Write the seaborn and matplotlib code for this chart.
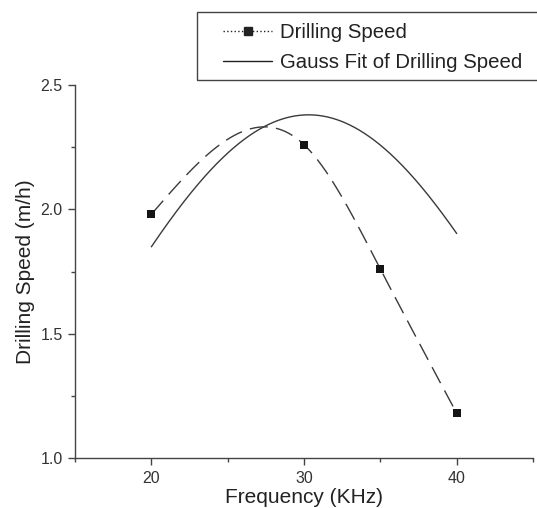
import numpy as np
import pandas as pd
import matplotlib
matplotlib.use('Agg')
import matplotlib.pyplot as plt
from matplotlib.lines import Line2D
from matplotlib.patches import Rectangle
from matplotlib.ticker import MultipleLocator
import seaborn as sns

# measured data
freq = [20, 30, 35, 40]
speed = [1.98, 2.26, 1.76, 1.18]

# Gauss fit parameters
gauss_amp = 2.38
gauss_xc = 30.3
gauss_sigma = 14.5


def natural_spline(x, y, xs):
    # natural cubic spline through the measured points, for the smooth connecting line
    x = np.asarray(x, float)
    y = np.asarray(y, float)
    n = len(x)
    h = np.diff(x)
    A = np.zeros((n, n))
    b = np.zeros(n)
    A[0, 0] = A[-1, -1] = 1
    for i in range(1, n - 1):
        A[i, i - 1] = h[i - 1]
        A[i, i] = 2 * (h[i - 1] + h[i])
        A[i, i + 1] = h[i]
        b[i] = 3 * ((y[i + 1] - y[i]) / h[i] - (y[i] - y[i - 1]) / h[i - 1])
    c = np.linalg.solve(A, b)
    out = np.empty_like(xs)
    for k, xv in enumerate(xs):
        i = min(np.searchsorted(x, xv, side='right') - 1, n - 2)
        i = max(i, 0)
        bi = (y[i + 1] - y[i]) / h[i] - h[i] * (2 * c[i] + c[i + 1]) / 3
        di = (c[i + 1] - c[i]) / (3 * h[i])
        dx = xv - x[i]
        out[k] = y[i] + bi * dx + c[i] * dx ** 2 + di * dx ** 3
    return out


xs = np.linspace(freq[0], freq[-1], 300)
df_pts = pd.DataFrame({'freq': freq, 'speed': speed})
df_smooth = pd.DataFrame({'freq': xs, 'speed': natural_spline(freq, speed, xs)})
df_gauss = pd.DataFrame({'freq': xs,
                         'speed': gauss_amp * np.exp(-(xs - gauss_xc) ** 2 / (2 * gauss_sigma ** 2))})

sns.set_style('ticks')
plt.rcParams['font.family'] = ['Liberation Sans', 'DejaVu Sans']

fig = plt.figure(figsize=(5.37, 5.08), dpi=100)
ax = fig.add_axes([0.1397, 0.0984, 0.8529, 0.7343])

line_col = '#3a3a3a'
sns.lineplot(data=df_smooth, x='freq', y='speed', ax=ax, color=line_col, lw=1.0,
             dashes=False, linestyle=(0, (13, 6)))
sns.lineplot(data=df_gauss, x='freq', y='speed', ax=ax, color=line_col, lw=1.0)
sns.scatterplot(data=df_pts, x='freq', y='speed', ax=ax, marker='s', s=40,
                color='#151515', edgecolor='#151515', linewidth=0, zorder=5)

ax.set_xlim(15, 45)
ax.set_ylim(1.0, 2.5)
ax.xaxis.set_major_locator(MultipleLocator(10))
ax.xaxis.set_minor_locator(MultipleLocator(5))
ax.yaxis.set_major_locator(MultipleLocator(0.5))
ax.yaxis.set_minor_locator(MultipleLocator(0.25))
ax.set_yticklabels([f'{v:.1f}' for v in ax.get_yticks()])
ax.tick_params(which='major', direction='out', length=5, width=1, colors='#444444',
               labelsize=11.5, labelcolor='#333333', pad=4)
ax.tick_params(which='minor', direction='out', length=3, width=1, colors='#444444')
for s in ['top', 'right']:
    ax.spines[s].set_visible(False)
for s in ['left', 'bottom']:
    ax.spines[s].set_color('#444444')
    ax.spines[s].set_linewidth(1)

ax.set_xlabel('Frequency (KHz)', fontsize=15, color='#222222', labelpad=2)
ax.set_ylabel('Drilling Speed (m/h)', fontsize=15, color='#222222', labelpad=4)

# legend frame runs past the right edge of the figure, as in the original
fig.patches.append(Rectangle((197 / 537, 1 - 80 / 508), 0.7, 68 / 508,
                             transform=fig.transFigure, fill=False,
                             edgecolor='#444444', linewidth=1))
handles = [Line2D([], [], color='#222222', lw=1, linestyle=':', marker='s', markersize=6),
           Line2D([], [], color='#222222', lw=1)]
leg = fig.legend(handles, ['Drilling Speed', 'Gauss Fit of Drilling Speed'],
                 loc='upper left', bbox_to_anchor=(223 / 537, 1 - 23 / 508),
                 fontsize=14.7, frameon=False,
                 handlelength=2.4, handletextpad=0.4, labelspacing=0.55, borderpad=0,
                 borderaxespad=0)
for t in leg.get_texts():
    t.set_color('#222222')

fig.savefig('out.png', dpi=100)
